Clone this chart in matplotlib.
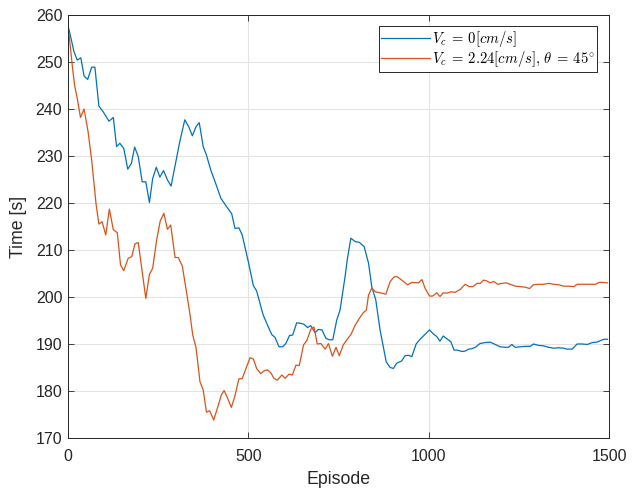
import matplotlib.pyplot as plt
import numpy as np

plt.rcParams['font.family'] = ['Liberation Sans', 'DejaVu Sans']
plt.rcParams['mathtext.fontset'] = 'cm'

# Zeit pro Episode, Strömung V_c = 0
ep_v0 = [3, 17, 26, 36, 45, 55, 66, 75, 86, 98, 114, 126, 135, 144, 155, 166, 176, 185,
         195, 206, 216, 226, 235, 245, 255, 265, 276, 286, 297, 310, 324, 335, 345, 355,
         364, 375, 384, 396, 408, 424, 440, 454, 463, 474, 483, 500, 514, 523, 541, 555,
         565, 574, 585, 595, 604, 614, 623, 634, 645, 654, 664, 673, 685, 694, 704, 715,
         724, 734, 745, 754, 768, 774, 784, 796, 808, 821, 833, 842, 853, 865, 882, 893,
         902, 911, 925, 934, 944, 953, 965, 976, 985, 1002, 1013, 1022, 1031, 1040, 1050,
         1061, 1070, 1079, 1092, 1101, 1110, 1119, 1129, 1142, 1156, 1170, 1184, 1198,
         1211, 1221, 1230, 1239, 1253, 1267, 1281, 1290, 1304, 1318, 1332, 1346, 1360,
         1374, 1383, 1397, 1411, 1425, 1439, 1453, 1466, 1475, 1485, 1495]
t_v0 = [257.0, 252.2, 250.4, 250.9, 247.0, 246.3, 248.9, 248.9, 240.6, 239.4, 237.4,
        238.2, 232.0, 232.7, 231.6, 227.2, 228.4, 231.9, 229.9, 224.5, 224.5, 220.1,
        225.2, 227.6, 225.5, 226.9, 224.9, 223.6, 227.9, 233.0, 237.7, 236.2, 234.3,
        236.2, 237.1, 232.0, 230.2, 227.0, 224.5, 221.0, 219.2, 217.7, 214.6, 214.7,
        213.2, 207.5, 202.4, 201.3, 196.2, 193.7, 192.0, 191.4, 189.4, 189.4, 190.1,
        191.8, 191.9, 194.5, 194.4, 194.2, 193.5, 193.9, 192.4, 193.1, 193.0, 191.2,
        190.9, 190.9, 195.1, 197.2, 204.3, 207.9, 212.5, 211.8, 211.6, 210.7, 207.2,
        202.2, 199.4, 193.0, 186.2, 185.0, 184.8, 185.9, 186.4, 187.5, 187.6, 187.3,
        190.0, 191.0, 191.7, 193.0, 192.1, 191.6, 190.6, 191.7, 191.1, 190.5, 188.7,
        188.7, 188.4, 188.5, 188.9, 189.0, 189.3, 190.1, 190.3, 190.4, 189.9, 189.4,
        189.3, 189.3, 189.9, 189.3, 189.4, 189.5, 189.5, 190.0, 189.7, 189.6, 189.3,
        189.1, 189.2, 189.1, 188.9, 188.9, 190.0, 190.0, 189.9, 190.3, 190.4, 190.7,
        191.0, 191.0]

# Zeit pro Episode, Strömung V_c = 2.24 cm/s unter 45 Grad
ep_v224 = [3, 13, 19, 26, 35, 45, 56, 66, 78, 86, 95, 105, 115, 126, 137, 146, 155, 167,
           177, 186, 195, 206, 216, 226, 235, 246, 256, 266, 276, 285, 297, 306, 317,
           327, 338, 346, 355, 366, 375, 384, 393, 404, 417, 425, 433, 444, 453, 463,
           474, 483, 494, 505, 514, 523, 534, 544, 553, 562, 571, 580, 593, 602, 613,
           622, 632, 641, 653, 662, 673, 682, 691, 701, 713, 722, 733, 743, 752, 763,
           774, 785, 796, 808, 819, 827, 833, 842, 852, 865, 881, 893, 904, 913, 925,
           941, 953, 971, 981, 990, 1002, 1011, 1022, 1031, 1040, 1050, 1061, 1073,
           1087, 1101, 1112, 1122, 1134, 1143, 1152, 1161, 1170, 1180, 1191, 1203,
           1215, 1226, 1240, 1253, 1267, 1279, 1290, 1304, 1318, 1332, 1346, 1360,
           1374, 1388, 1402, 1411, 1425, 1439, 1453, 1462, 1472, 1481, 1495]
t_v224 = [256.1, 248.7, 244.9, 242.3, 238.2, 240.0, 235.2, 229.1, 219.9, 215.5, 216.0,
          213.2, 218.7, 214.3, 213.7, 206.8, 205.6, 208.2, 208.6, 211.3, 211.6, 205.4,
          199.7, 204.8, 206.1, 212.1, 216.2, 217.8, 214.4, 215.3, 208.4, 208.4, 206.6,
          201.9, 196.5, 191.9, 189.3, 182.0, 180.2, 175.5, 175.8, 173.8, 177.0, 179.1,
          180.1, 178.2, 176.5, 179.0, 182.6, 182.6, 184.9, 187.1, 186.8, 184.8, 183.7,
          184.3, 184.5, 183.9, 182.7, 182.3, 183.4, 182.7, 183.6, 183.4, 185.5, 185.4,
          189.8, 190.7, 193.1, 193.6, 190.0, 190.1, 188.9, 190.1, 187.4, 189.3, 187.5,
          189.8, 191.0, 192.1, 194.0, 195.5, 196.7, 197.2, 200.4, 201.9, 201.1, 200.9,
          200.6, 203.3, 204.3, 204.3, 203.6, 202.6, 203.1, 203.0, 203.7, 201.8, 200.2,
          200.2, 200.9, 200.1, 200.9, 200.8, 201.1, 201.0, 201.6, 202.7, 202.2, 202.2,
          202.9, 202.9, 203.6, 203.4, 203.0, 203.3, 202.7, 202.9, 203.0, 202.7, 202.3,
          202.2, 202.1, 201.8, 202.6, 202.7, 202.7, 202.9, 202.7, 202.6, 202.3, 202.3,
          202.2, 202.7, 202.7, 202.7, 202.7, 202.7, 203.1, 203.1, 203.0]

fig = plt.figure(figsize=(6.4, 4.93), dpi=100)
ax = fig.add_axes([0.106, 0.1116, 0.846, 0.858])

ax.plot(ep_v0, t_v0, color='#0072BD', lw=0.9, label=r'$V_c\:=\:0[cm/s]$')
ax.plot(ep_v224, t_v224, color='#D95319', lw=0.9,
        label=r'$V_c\:=\:2.24[cm/s],\,\theta\:=\:45^{\circ}$')

ax.set_xlim(0, 1500)
ax.set_ylim(170, 260)
ax.set_xticks([0, 500, 1000, 1500])
ax.set_yticks(np.arange(170, 261, 10))
ax.tick_params(direction='in', top=True, right=True, labelsize=11.5, colors='#262626',
               length=4, width=0.6, pad=4)
ax.tick_params(axis='x', pad=8)
for s in ax.spines.values():
    s.set_color('#262626')
    s.set_linewidth(0.7)
ax.grid(True, color='#e3e3e3', lw=0.8)
ax.set_axisbelow(True)

ax.set_xlabel('Episode', fontsize=12.8, color='#262626', labelpad=5)
ax.set_ylabel('Time [s]', fontsize=12.8, color='#262626', labelpad=6)

leg = ax.legend(loc='upper right', fontsize=10.5, fancybox=False, framealpha=1,
                edgecolor='#262626', borderpad=0.2, handlelength=3.3,
                handletextpad=0.15, labelspacing=0.0, borderaxespad=0,
                bbox_to_anchor=(0.978, 0.974))
leg.get_frame().set_linewidth(0.7)

fig.savefig('out.png', dpi=100)
